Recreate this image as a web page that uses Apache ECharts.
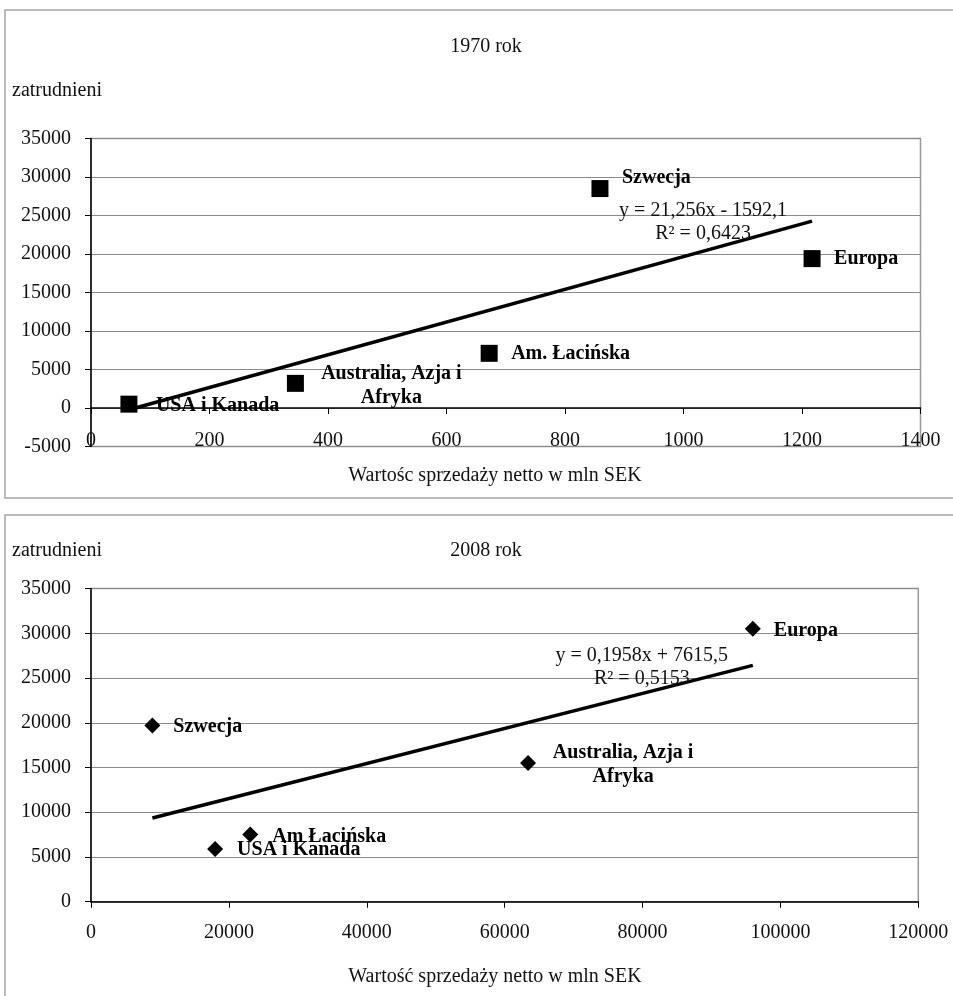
<!DOCTYPE html>
<html><head><meta charset="utf-8">
<script src="https://cdn.jsdelivr.net/npm/echarts@6/dist/echarts.min.js"></script>
<style>html,body{margin:0;padding:0;background:#fff}#c{width:953px;height:996px}</style>
</head><body><div id="c"></div>
<script>
// ---------- DATA ----------
const names1970 = ['USA i Kanada', 'Australia, Azja i\nAfryka', 'Am. Łacińska', 'Szwecja', 'Europa'];
const sales1970 = [64, 345, 672, 859, 1217];
const employees1970 = [500, 3200, 7100, 28500, 19400];
const trendCoef1970 = [21.256, -1592.1];           // slope, intercept (from chart)
const trendText1970 = 'y = 21,256x - 1592,1\nR² = 0,6423';

const names2008 = ['Szwecja', 'USA i Kanada', 'Am Łacińska', 'Australia, Azja i\nAfryka', 'Europa'];
const sales2008 = [8900, 18000, 23100, 63400, 96000];
const employees2008 = [19700, 5900, 7500, 15500, 30500];
const trendCoef2008 = [0.1958, 7615.5];
const trendText2008 = 'y = 0,1958x + 7615,5\nR² = 0,5153';

const xRange1970 = [0, 1400, 200];
const yRange1970 = [-5000, 35000, 5000];
const xRange2008 = [0, 120000, 20000];
const yRange2008 = [0, 35000, 5000];

const title1970 = '1970 rok';
const title2008 = '2008 rok';
const yTitle = 'zatrudnieni';
const xTitle1970 = 'Wartośc sprzedaży netto w mln SEK';
const xTitle2008 = 'Wartość sprzedaży netto w mln SEK';

// ---------- LAYOUT (label offsets, px from marker centre) ----------
const labelLayout1970 = [
  {dx: 27, dy: 1.5, align: 'left'},
  {dx: 96, dy: 2, align: 'center'},
  {dx: 22, dy: 0.5, align: 'left'},
  {dx: 22, dy: -11, align: 'left'},
  {dx: 22, dy: 0.5, align: 'left'}
];
const labelLayout2008 = [
  {dx: 21, dy: 1.5, align: 'left'},
  {dx: 22, dy: 1, align: 'left'},
  {dx: 22, dy: 2.5, align: 'left'},
  {dx: 95, dy: 1.5, align: 'center'},
  {dx: 21, dy: 1.7, align: 'left'}
];

const FONT = '"Liberation Serif", "Times New Roman", serif';
const GRID_C = '#8a8a8a';
const TXT = '#111';
const plain = v => String(v);

function pointData(names, xs, ys, layout) {
  return names.map((n, i) => ({
    name: n,
    value: [xs[i], ys[i]],
    label: {
      show: true, position: 'inside', align: layout[i].align, verticalAlign: 'middle',
      offset: [layout[i].dx, layout[i].dy], formatter: n,
      color: '#000', fontFamily: FONT, fontWeight: 'bold', fontSize: 20, lineHeight: 24,
      textBorderWidth: 0
    }
  }));
}
function trendLine(xs, coef) {
  const x0 = Math.min(...xs), x1 = Math.max(...xs);
  return [[x0, coef[0] * x0 + coef[1]], [x1, coef[0] * x1 + coef[1]]];
}
function trendLabel(xs, coef, text, off) {
  const x1 = Math.max(...xs);
  return [{
    value: [x1, coef[0] * x1 + coef[1]],
    label: {
      show: true, position: 'inside', align: 'center', verticalAlign: 'middle',
      offset: off, formatter: text, color: TXT, fontFamily: FONT, fontSize: 20, lineHeight: 23,
      textBorderWidth: 0, opacity: 1
    }
  }];
}

function yAxis(grid, r) {
  return {
    type: 'value', gridIndex: grid, min: r[0], max: r[1], interval: r[2],
    axisLine: {show: true, onZero: false, lineStyle: {color: '#000', width: 1.5}},
    axisTick: {show: true, length: 6, lineStyle: {color: '#000'}},
    axisLabel: {margin: 20, color: TXT, fontFamily: FONT, fontSize: 20, formatter: plain},
    splitLine: {show: true, lineStyle: {color: GRID_C, width: 1.2}}
  };
}

const chart = echarts.init(document.getElementById('c'), null, {renderer: 'canvas'});
chart.setOption({
  animation: false,
  backgroundColor: '#fff',
  grid: [
    {left: 91, top: 138.5, width: 829.5, height: 308, show: true, borderColor: '#999', borderWidth: 1.5, containLabel: false},
    {left: 91, top: 588.6, width: 827.3, height: 313.1, show: true, borderColor: '#999', borderWidth: 1.5, containLabel: false}
  ],
  xAxis: [
    { // 1970: line on zero with ticks
      type: 'value', gridIndex: 0, min: xRange1970[0], max: xRange1970[1], interval: xRange1970[2], position: 'bottom',
      axisLine: {show: true, onZero: true, lineStyle: {color: '#000', width: 1.5}},
      axisTick: {show: true, length: 6, lineStyle: {color: '#000'}},
      axisLabel: {show: false}, splitLine: {show: false}
    },
    { // 1970: labels at bottom of plot
      type: 'value', gridIndex: 0, min: xRange1970[0], max: xRange1970[1], interval: xRange1970[2], position: 'bottom',
      axisLine: {show: false, onZero: false}, axisTick: {show: false},
      axisLabel: {show: true, margin: -5.5, verticalAlign: 'middle', color: TXT, fontFamily: FONT, fontSize: 20, formatter: plain},
      splitLine: {show: false}
    },
    { // 2008
      type: 'value', gridIndex: 1, min: xRange2008[0], max: xRange2008[1], interval: xRange2008[2], position: 'bottom',
      axisLine: {show: true, onZero: false, lineStyle: {color: '#000', width: 1.5}},
      axisTick: {show: true, length: 6, lineStyle: {color: '#000'}},
      axisLabel: {show: true, margin: 31.5, verticalAlign: 'middle', color: TXT, fontFamily: FONT, fontSize: 20, formatter: plain},
      splitLine: {show: false}
    }
  ],
  yAxis: [yAxis(0, yRange1970), yAxis(1, yRange2008)],
  series: [
    {
      type: 'line', xAxisIndex: 0, yAxisIndex: 0, showSymbol: false, symbol: 'none', z: 3,
      lineStyle: {color: '#000', width: 3.5}, silent: true,
      data: trendLine(sales1970, trendCoef1970)
    },
    {
      type: 'scatter', xAxisIndex: 0, yAxisIndex: 0, symbolSize: 1, z: 3, silent: true,
      itemStyle: {color: 'rgba(255,255,255,0)', opacity: 1},
      data: trendLabel(sales1970, trendCoef1970, trendText1970, [-109, 1])
    },
    {
      type: 'scatter', xAxisIndex: 0, yAxisIndex: 0, symbol: 'rect', symbolSize: 17, z: 4,
      itemStyle: {color: '#000', opacity: 1},
      data: pointData(names1970, sales1970, employees1970, labelLayout1970)
    },
    {
      type: 'line', xAxisIndex: 2, yAxisIndex: 1, showSymbol: false, symbol: 'none', z: 3,
      lineStyle: {color: '#000', width: 3.5}, silent: true,
      data: trendLine(sales2008, trendCoef2008)
    },
    {
      type: 'scatter', xAxisIndex: 2, yAxisIndex: 1, symbolSize: 1, z: 3, silent: true,
      itemStyle: {color: 'rgba(255,255,255,0)', opacity: 1},
      data: trendLabel(sales2008, trendCoef2008, trendText2008, [-111, 2])
    },
    {
      type: 'scatter', xAxisIndex: 2, yAxisIndex: 1, symbol: 'diamond', symbolSize: 16, z: 4,
      itemStyle: {color: '#000', opacity: 1},
      data: pointData(names2008, sales2008, employees2008, labelLayout2008)
    }
  ],
  graphic: [
    {type: 'rect', shape: {x: 5, y: 10, width: 980, height: 488}, style: {fill: 'none', stroke: '#a5a5a5', lineWidth: 1.5}, z: -1},
    {type: 'rect', shape: {x: 5, y: 515, width: 980, height: 520}, style: {fill: 'none', stroke: '#a5a5a5', lineWidth: 1.5}, z: -1},
    {type: 'text', x: 486, y: 47, style: {text: title1970, font: '20px ' + FONT, fill: TXT, align: 'center', verticalAlign: 'middle'}},
    {type: 'text', x: 12, y: 91, style: {text: yTitle, font: '20px ' + FONT, fill: TXT, align: 'left', verticalAlign: 'middle'}},
    {type: 'text', x: 495, y: 476, style: {text: xTitle1970, font: '20px ' + FONT, fill: TXT, align: 'center', verticalAlign: 'middle'}},
    {type: 'text', x: 486, y: 551, style: {text: title2008, font: '20px ' + FONT, fill: TXT, align: 'center', verticalAlign: 'middle'}},
    {type: 'text', x: 12, y: 551, style: {text: yTitle, font: '20px ' + FONT, fill: TXT, align: 'left', verticalAlign: 'middle'}},
    {type: 'text', x: 495, y: 977, style: {text: xTitle2008, font: '20px ' + FONT, fill: TXT, align: 'center', verticalAlign: 'middle'}}
  ]
});
</script>
</body></html>
